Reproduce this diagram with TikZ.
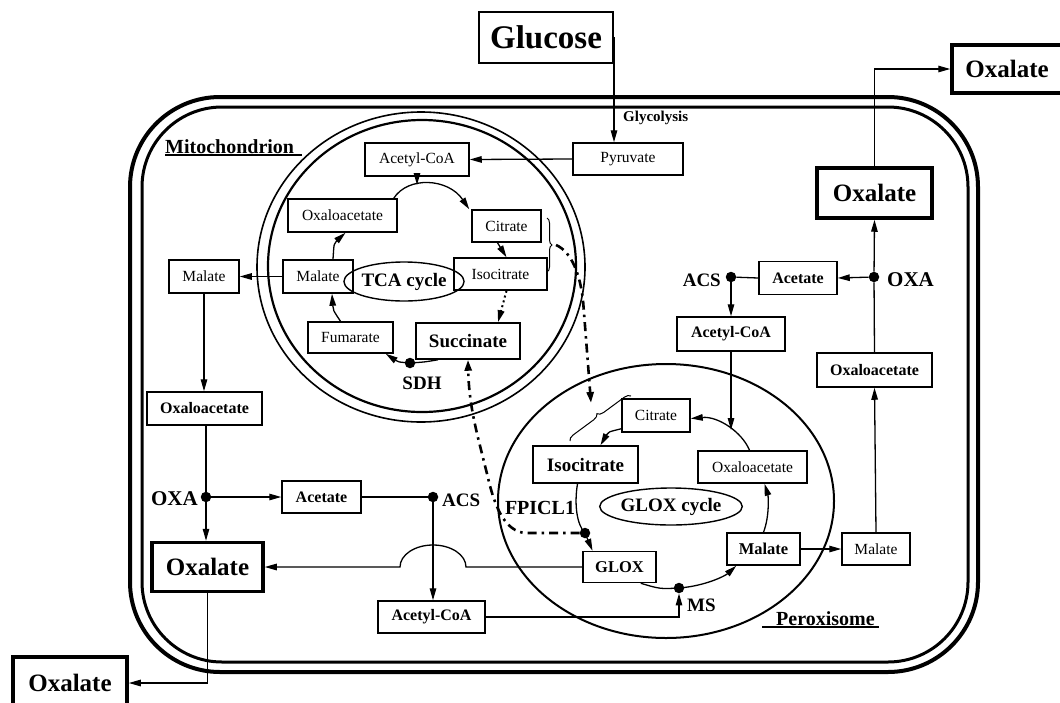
\documentclass[tikz,border=0pt]{standalone}
\usepackage{fontspec}
\setmainfont{Liberation Serif}
\usepackage{tikz}
\usetikzlibrary{arrows.meta, positioning, calc, shapes.geometric, decorations.pathreplacing}

\begin{document}
\begin{tikzpicture}[
    x=1pt, y=-1pt,
    met/.style={
        draw, line width=1.5pt, inner sep=0pt, minimum height=33pt,
        font=\fontsize{15.5}{17}\selectfont
    },
    metb/.style={met, font=\fontsize{16}{18}\selectfont\bfseries},
    metl/.style={met, minimum height=36pt, font=\fontsize{19}{22}\selectfont\bfseries},
    oxal/.style={
        draw, line width=3.5pt, inner sep=0pt, minimum width=112pt,
        minimum height=49pt, font=\fontsize{25}{28}\selectfont\bfseries
    },
    enz/.style={inner sep=0pt, font=\fontsize{19}{22}\selectfont\bfseries},
    cyclabel/.style={ellipse, draw, line width=1.4pt, inner sep=0pt,
        font=\fontsize{19}{22}\selectfont\bfseries},
    enzdot/.style={circle, fill, inner sep=0pt, minimum size=10.5pt},
    flow/.style={-{Triangle[length=12pt,width=6.5pt]}, line width=1.3pt},
    link/.style={line width=1.3pt},
    transfer/.style={-{Triangle[length=11pt,width=7pt]}, line width=2.6pt,
        dash pattern=on 9pt off 5pt on 2.5pt off 5pt},
]
\useasboundingbox (0, 0) rectangle (1060, 702);

% Cell and organelles
\draw[line width=4pt, rounded corners=90pt] (130, 97) rectangle (978, 672);
\draw[line width=3pt, rounded corners=80pt] (142, 107) rectangle (968, 662);
\draw[line width=1.6pt] (421, 267) ellipse [x radius=164pt, y radius=155pt];
\draw[line width=2.2pt] (422, 266) ellipse [x radius=154pt, y radius=146pt];
\draw[line width=2pt] (666, 501) ellipse [x radius=168pt, y radius=137pt];

\node[enz, font=\fontsize{20}{22}\selectfont\bfseries, anchor=base west] (mitolab) at (165, 153) {Mitochondrion};
\draw[link] ([yshift=-2pt]mitolab.base west) -- ([xshift=8pt, yshift=-2pt]mitolab.base east);
\node[enz, font=\fontsize{20}{22}\selectfont\bfseries, anchor=base west] (peroxlab) at (776, 625) {Peroxisome};
\draw[link] ([xshift=-14pt, yshift=-2pt]peroxlab.base west) -- ([xshift=4pt, yshift=-2pt]peroxlab.base east);

% Nodes outside the cell
\node[draw, line width=1.5pt, minimum width=134pt, minimum height=51pt, inner sep=0pt,
    font=\fontsize{33}{36}\selectfont\bfseries] (glucose) at (546, 37.5) {Glucose};
\node[oxal, minimum width=110pt, minimum height=48pt] (oxtop) at (1007, 69) {Oxalate};
\node[oxal, minimum width=114pt, minimum height=52pt] (oxbot) at (70, 683) {Oxalate};
\node[inner sep=0pt, anchor=west, font=\fontsize{15}{17}\selectfont\bfseries] (glyco) at (623, 118) {Glycolysis};

% Mitochondrion (TCA cycle)
\node[met, minimum width=110pt, minimum height=32pt] (pyr) at (628, 159) {Pyruvate};
\node[met, minimum width=104pt] (macoa) at (417, 159.5) {Acetyl-CoA};
\node[met, minimum width=109pt] (moaa) at (342.5, 215.5) {Oxaloacetate};
\node[met, minimum width=69pt, minimum height=32pt] (mcit) at (506.5, 226) {Citrate};
\node[met, minimum width=93pt, minimum height=32pt] (miso) at (500.5, 274) {Isocitrate};
\node[met, minimum width=70pt] (mmal) at (318, 276.5) {Malate};
\node[cyclabel, minimum width=96pt, minimum height=39pt] (tca) at (404, 281.5) {TCA cycle};
\node[met, minimum width=85pt, minimum height=31pt] (mfum) at (350.5, 337.5) {Fumarate};
\node[metl, minimum width=104pt] (msucc) at (468, 341) {Succinate};
\node[enzdot] (sdh) at (410, 363) {};
\node[enz] (sdhlab) at (422, 383) {SDH};

% Cytosol, left
\node[met, minimum width=70pt] (lmal) at (204, 276.5) {Malate};
\node[metb, minimum width=115pt] (loaa) at (204.5, 408.5) {Oxaloacetate};
\node[enzdot] (loxa) at (206, 497) {};
\node[enz, font=\fontsize{21}{23}\selectfont\bfseries, anchor=east] (loxalab) at (198, 499) {OXA};
\node[metb, minimum width=79pt, minimum height=32pt] (lacet) at (321.5, 497) {Acetate};
\node[enzdot] (lacs) at (433, 497) {};
\node[enz, anchor=west] (lacslab) at (442, 500) {ACS};
\node[oxal, minimum width=111pt] (loxl) at (207.5, 567) {Oxalate};
\node[metb, minimum width=107pt, minimum height=32pt] (bacoa) at (431.5, 617) {Acetyl-CoA};

% Peroxisome (GLOX cycle)
\node[met, minimum width=68pt] (pcit) at (656, 415.5) {Citrate};
\node[metl, minimum width=105pt, minimum height=37pt] (piso) at (585.5, 464.5) {Isocitrate};
\node[met, minimum width=109pt, minimum height=32pt] (poaa) at (752.5, 467) {Oxaloacetate};
\node[cyclabel, minimum width=142pt, minimum height=37pt] (gloxc) at (671, 506.5) {GLOX cycle};
\node[enz, font=\fontsize{20}{22}\selectfont\bfseries] (fpicl) at (540, 508) {FPICL1};
\node[enzdot] (fpdot) at (585, 533) {};
\node[metb, minimum width=73pt, minimum height=31pt, font=\fontsize{16.5}{18}\selectfont\bfseries] (glox) at (619.5, 567) {GLOX};
\node[enzdot] (msdot) at (679, 588) {};
\node[enz, anchor=west] (mslab) at (687, 605) {MS};
\node[metb, minimum width=73pt, minimum height=32pt, font=\fontsize{16.5}{18}\selectfont\bfseries] (pmal) at (763.5, 549) {Malate};
\node[met, minimum width=68pt, minimum height=32pt] (rmal) at (876, 549) {Malate};

% Cytosol, right
\node[metb, minimum width=115pt, minimum height=34pt] (roaa) at (874.5, 370) {Oxaloacetate};
\node[enzdot] (roxa) at (874, 277) {};
\node[enz, font=\fontsize{21}{23}\selectfont\bfseries, anchor=west] (roxalab) at (887, 280) {OXA};
\node[metb, minimum width=78pt] (racet) at (798, 278) {Acetate};
\node[enzdot] (racs) at (731, 277) {};
\node[enz, anchor=east] (racslab) at (721, 280) {ACS};
\node[metb, minimum width=108pt, minimum height=34pt] (racoa) at (731, 334) {Acetyl-CoA};
\node[oxal, minimum width=115pt, minimum height=50pt] (roxl) at (874.5, 193) {Oxalate};

% Glucose -> pyruvate -> acetyl-CoA
\draw[flow] (glucose.east) -| ([xshift=-14pt]pyr.north);
\draw[flow] (pyr.west) -- (macoa.east);
\coordinate (tcatop) at (417, 185);
\draw[flow] (macoa.south) -- (tcatop);

% TCA cycle
\draw[flow] ([xshift=-4pt]moaa.north east) .. controls (408, 176) and (448, 178) .. ([xshift=-2pt]mcit.north west);
\draw[flow] ([xshift=-9pt]mcit.south) -- ([xshift=6pt]miso.north);
\draw[flow, line width=2pt, dash pattern=on 2pt off 3pt] ([xshift=6pt]miso.south) -- ([xshift=30pt]msucc.north);
\draw[link] ([xshift=-30pt]msucc.south) .. controls (425, 362) .. (sdh.center);
\draw[flow] (sdh.center) .. controls (398, 362) .. ([xshift=-8pt]mfum.south east);
\draw[flow] ([xshift=-10pt]mfum.north) .. controls (333, 310) .. ([xshift=14pt]mmal.south);
\draw[flow] ([xshift=15pt]mmal.north) .. controls (334, 243) .. ([xshift=3pt]moaa.south);

% Brace round citrate and isocitrate, transfer to peroxisome
\draw[line width=1pt, decorate, decoration={brace, amplitude=5pt}] (547, 218) -- (547, 272);
\coordinate (mbr) at (556, 245);
\draw[line width=1pt, decorate, decoration={brace, amplitude=6pt}] (570, 441) -- (631, 396);
\coordinate (pbr) at (591, 403);
\draw[transfer] (mbr) .. controls (572, 252) and (580, 275) .. (583, 300) -- (pbr);

% Malate export and left branch
\draw[flow] (mmal.west) -- (lmal.east);
\draw[flow] (lmal.south) -- (lmal.south |- loaa.north);
\draw[link] (loxa |- loaa.south) -- (loxa);
\draw[flow] (loxa) -- (loxa |- loxl.north);
\draw[flow] (loxa) -- (lacet.west);
\draw[link] (lacet.east) -- (lacs);
\draw[flow] (lacs) -- (lacs |- bacoa.north);
\draw[flow] (loxl.south) |- (oxbot.east);

% GLOX -> oxalate, hopping over the ACS line
\draw[flow] (glox.west) -- (466, 567) arc[start angle=0, end angle=180, x radius=33pt, y radius=22pt] -- (loxl.east);

% Acetyl-CoA -> MS
\draw[flow] (bacoa.east) -| (msdot.south);

% GLOX cycle
\draw[flow] ([yshift=4pt]pcit.south west) .. controls (608, 432) .. ([xshift=15pt]piso.north);
\draw[flow] ([xshift=-8pt]piso.south) .. controls (574, 505) and (577, 525) .. (fpdot.center) -- ([xshift=-27pt]glox.north);
\draw[link] ([xshift=-16pt]glox.south east) .. controls (660, 589) .. (msdot.center);
\draw[flow] (msdot.center) .. controls (705, 586) and (725, 576) .. ([xshift=10pt]pmal.south west);
\draw[flow] (pmal.north) .. controls (770, 515) and (768, 495) .. ([xshift=12pt]poaa.south);
\draw[flow] ([xshift=-3pt]poaa.north) .. controls (742, 432) and (718, 416) .. ([yshift=-3pt]pcit.east);
\coordinate (poaatop) at (731, 430);
\draw[flow] (racoa.south) -- (poaatop);

% FPICL1 -> succinate
\draw[transfer] (fpdot.west) -- (525, 533) .. controls (506, 531) and (496, 510) .. (489, 482)
    .. controls (479, 440) and (469, 410) .. (msucc.south);

% Right branch
\draw[flow] (pmal.east) -- (rmal.west);
\draw[flow] (rmal.north) -- (roaa.south);
\draw[link] (roaa.north) -- (roxa);
\draw[flow] (roxa) -- (roxl.south);
\draw[flow] (roxa) -- (racet.east);
\draw[link] (racet.west) -- (racs);
\draw[flow] (racs) -- (racoa.north);
\draw[flow] (roxl.north) |- (oxtop.west);

\end{tikzpicture}
\end{document}
